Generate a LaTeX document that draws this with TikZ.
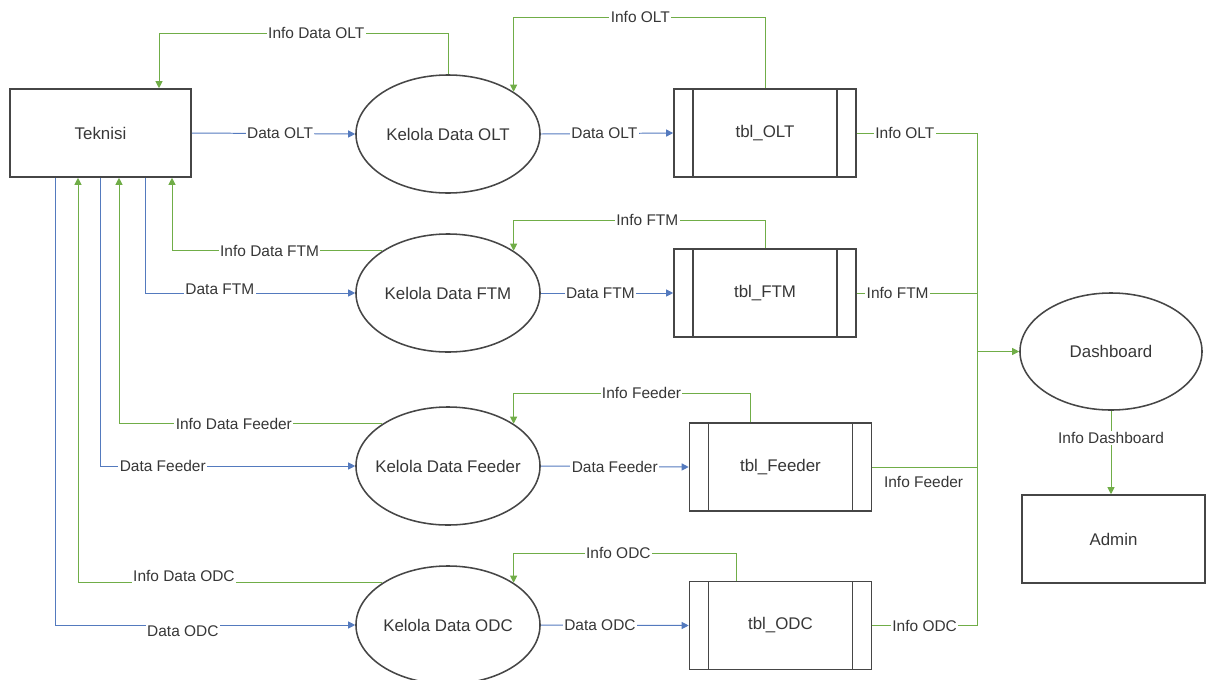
\documentclass[tikz,border=0pt]{standalone}
\usepackage{fontspec}
\setmainfont{Liberation Sans}
\usetikzlibrary{arrows.meta,shapes.geometric}
\definecolor{flowgreen}{RGB}{112,173,71}
\definecolor{flowblue}{RGB}{84,122,190}
\definecolor{edgegray}{RGB}{70,70,70}
\definecolor{textgray}{RGB}{55,55,55}
\tikzset{
	entity/.style={draw=edgegray, line width=1.1pt, minimum width=4.525cm, minimum height=2.2cm, inner sep=0pt, text=textgray, font=\fontsize{12}{14}\selectfont},
	process/.style={entity, ellipse, inner xsep=-0.4cm, minimum width=4.6cm, minimum height=2.95cm},
	store/.style={entity, minimum width=4.55cm, path picture={
		\draw[edgegray, line width=1.1pt] ([xshift=0.47cm]path picture bounding box.north west) -- ([xshift=0.47cm]path picture bounding box.south west);
		\draw[edgegray, line width=1.1pt] ([xshift=-0.47cm]path picture bounding box.north east) -- ([xshift=-0.47cm]path picture bounding box.south east);}},
	dataflow/.style={flowblue, line width=0.7pt, -{Triangle[length=5pt,width=5pt]}},
	infoflow/.style={flowgreen, line width=0.7pt, -{Triangle[length=5pt,width=5pt]}},
	infoline/.style={flowgreen, line width=0.7pt},
	lbl/.style={fill=white, inner sep=1pt, text=textgray, font=\fontsize{11}{13}\selectfont}
}
\begin{document}
\begin{tikzpicture}[x=0.025cm, y=-0.025cm]
	\useasboundingbox (0,0) rectangle (1206,679);

	\node[entity] (tek) at (100.5,133) {Teknisi};
	\node[process] (olt) at (448,134) {Kelola Data OLT};
	\node[process] (ftm) at (448,293) {Kelola Data FTM};
	\node[process] (feed) at (448,466) {Kelola Data Feeder};
	\node[process] (odc) at (448,625) {Kelola Data ODC};
	\node[store] (tolt) at (765,133) {tbl\_OLT};
	\node[store] (tftm) at (765,293) {tbl\_FTM};
	\node[store] (tfeed) at (780.5,467) {tbl\_Feeder};
	\node[store] (todc) at (780.5,625.5) {tbl\_ODC};
	\node[process, minimum width=4.55cm, minimum height=2.925cm] (dash) at (1111,351.5) {Dashboard};
	\node[entity, minimum width=4.575cm] (admin) at (1113.5,539) {Admin};

	% lanes under Teknisi and rows of the loops
	\coordinate (l1) at (55,0);
	\coordinate (l2) at (78,0);
	\coordinate (l3) at (100,0);
	\coordinate (l4) at (119,0);
	\coordinate (l5) at (145,0);
	\coordinate (l6) at (172,0);
	\coordinate (l7) at (159,0);
	\coordinate (bus) at (977,0);
	\coordinate (rOLT) at (0,33);
	\coordinate (rIOLT) at (0,17);
	\coordinate (rIFTM) at (0,220);
	\coordinate (rIFeed) at (0,393);
	\coordinate (rIODC) at (0,553);
	\coordinate (ffeed) at ([xshift=-0.75cm]tfeed.north);
	\coordinate (fodc) at ([xshift=-1.1cm]todc.north);

	\draw[dataflow] (tek.east) -- node[lbl, pos=0.54] (dOLT) {Data OLT} (olt.west);
	\draw[dataflow] (olt.east) -- node[lbl, pos=0.48] (sOLT) {Data OLT} (tolt.west);
	\draw[infoflow] (olt.north) -- (olt.north |- rOLT) -| node[lbl, pos=0.228] (iOLT) {Info Data OLT} (tek.north -| l7);
	\draw[infoflow] (tolt.north) -- (tolt.north |- rIOLT) -| node[lbl, pos=0.248] (tiOLT) {Info OLT} (olt.north east);

	\draw[infoflow] (ftm.north west) -| node[lbl, pos=0.268] (iFTM) {Info Data FTM} (tek.south -| l6);
	\draw[dataflow] (tek.south -| l5) |- node[lbl, pos=0.678, yshift=0.1cm] (dFTM) {Data FTM} (ftm.west);
	\draw[dataflow] (ftm.east) -- node[lbl, pos=0.45] (sFTM) {Data FTM} (tftm.west);
	\draw[infoflow] (tftm.north) -- (tftm.north |- rIFTM) -| node[lbl, pos=0.234] (tiFTM) {Info FTM} (ftm.north east);

	\draw[infoflow] (feed.north west) -| node[lbl, pos=0.282] (iFeed) {Info Data Feeder} (tek.south -| l4);
	\draw[dataflow] (tek.south -| l3) |- node[lbl, pos=0.623] (dFeed) {Data Feeder} (feed.west);
	\draw[dataflow] (feed.east) -- node[lbl, pos=0.5] (sFeed) {Data Feeder} (tfeed.west);
	\draw[infoflow] (ffeed) -- (ffeed |- rIFeed) -| node[lbl, pos=0.23] (tiFeed) {Info Feeder} (feed.north east);

	\draw[infoflow] (odc.north west) -| node[lbl, pos=0.326, yshift=0.18cm] (iODC) {Info Data ODC} (tek.south -| l2);
	\draw[dataflow] (tek.south -| l1) |- node[lbl, pos=0.713, yshift=-0.15cm] (dODC) {Data ODC} (odc.west);
	\draw[dataflow] (odc.east) -- node[lbl, pos=0.4] (sODC) {Data ODC} (todc.west);
	\draw[infoflow] (fodc) -- (fodc |- rIODC) -| node[lbl, pos=0.265] (tiODC) {Info ODC} (odc.north east);

	\draw[infoline] (tolt.east -| bus) -- (todc.east -| bus);
	\draw[infoline] (tolt.east) -- node[lbl, pos=0.4] (bOLT) {Info OLT} (tolt.east -| bus);
	\draw[infoline] (tftm.east) -- node[lbl, pos=0.34] (bFTM) {Info FTM} (tftm.east -| bus);
	\draw[infoline] (tfeed.east) -- node[lbl, pos=0.49, yshift=-0.375cm] (bFeed) {Info Feeder} (tfeed.east -| bus);
	\draw[infoline] (todc.east) -- node[lbl, pos=0.5] (bODC) {Info ODC} (todc.east -| bus);
	\draw[infoflow] (dash.west -| bus) -- (dash.west);
	\draw[infoflow] (dash.south) -- node[lbl, pos=0.33] (iDash) {Info Dashboard} (dash.south |- admin.north);
\end{tikzpicture}
\end{document}
